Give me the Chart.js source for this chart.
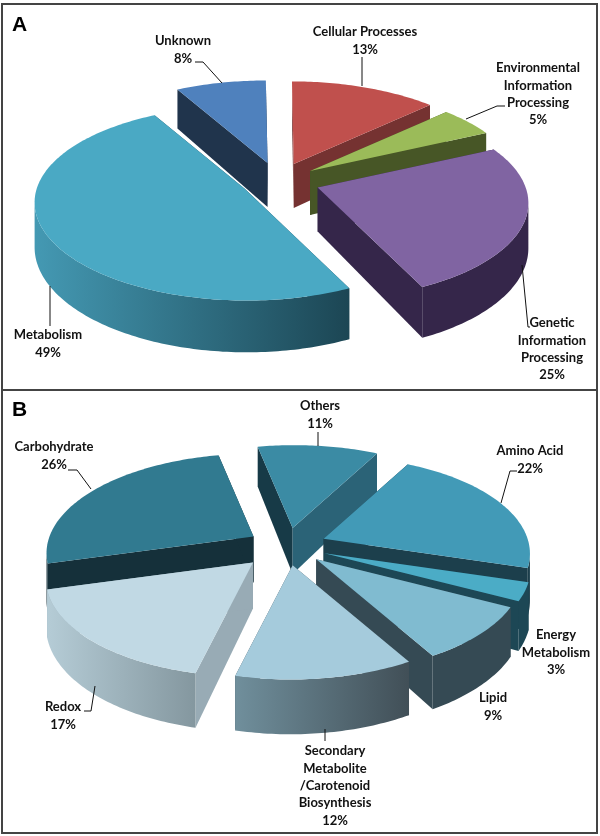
<!DOCTYPE html>
<html>
<head>
<meta charset="utf-8">
<title>Pie charts A and B</title>
<script src="https://cdn.jsdelivr.net/npm/chart.js@4"></script>
<style>
    body { margin: 0; background: #fff; }
    canvas { position: absolute; left: 0; }
    .rule { position: absolute; background: #444; }
</style>
</head>
<body>
<canvas id="chartA" width="600" height="390" style="top:0"></canvas>
<canvas id="chartB" width="600" height="446" style="top:390px"></canvas>
<div class="rule" style="left:1px;top:3px;width:597px;height:2px"></div>
<div class="rule" style="left:1px;top:389px;width:597px;height:2px"></div>
<div class="rule" style="left:1px;top:832px;width:597px;height:2px"></div>
<div class="rule" style="left:1px;top:3px;width:2px;height:831px"></div>
<div class="rule" style="left:596px;top:3px;width:2px;height:831px"></div>
<script>
// Panel A data
const categoriesA = ['Unknown', 'Cellular Processes', 'Environmental\nInformation\nProcessing', 'Genetic\nInformation\nProcessing', 'Metabolism'];
const valuesA = [8, 13, 5, 25, 49];

// Panel B data
const categoriesB = ['Others', 'Amino Acid', 'Energy\nMetabolism', 'Lipid', 'Secondary\nMetabolite\n/Carotenoid\nBiosynthesis', 'Redox', 'Carbohydrate'];
const valuesB = [11, 22, 3, 9, 12, 17, 26];

// Slice styles: top colour, radial wall colour, outer wall left and right colour
const stylesA = [
    { top: '#4f81bd', side: '#20344c', left: '#20344c', right: '#20344c' },
    { top: '#c0504d', side: '#753231', left: '#753231', right: '#753231' },
    { top: '#9bbb59', side: '#475626', left: '#475626', right: '#475626' },
    { top: '#8064a2', side: '#35264a', left: '#35264a', right: '#35264a' },
    { top: '#4aa9c4', side: '#1e4856', left: '#4499b3', right: '#1c4654' }
];
const stylesB = [
    { top: '#3b8ba4', side: '#173a47', sideEnd: '#2b6377', left: '#2b6377', right: '#2b6377' },
    { top: '#429ab7', side: '#1c3f4c', left: '#1c3f4c', right: '#1c3f4c' },
    { top: '#4bacc6', side: '#1d4755', left: '#1d4755', right: '#1d4755' },
    { top: '#80bbd0', side: '#354a54', left: '#354a54', right: '#354a54' },
    { top: '#a5cbdc', side: '#404f58', left: '#708f9c', right: '#414f57' },
    { top: '#c1d9e4', side: '#98abb5', left: '#b5ccd6', right: '#84979f' },
    { top: '#317a90', side: '#15303a', left: '#15303a', right: '#15303a' }
];

// Explosion of each slice, used as the arc offset
const explodeA = [65, 65, 62, 65, 58];
const explodeB = [71, 71, 71, 71, 71, 84, 71];

// Label anchors (centre x, middle y of first line) and leader lines, canvas coords
const labelsA = [
    { x: 183, y: 41, line: [[195, 62], [203, 62], [222, 83]] },
    { x: 365, y: 32, line: [[362, 57], [362, 86]] },
    { x: 538, y: 68, line: [[505, 106], [497, 106], [466, 119]] },
    { x: 552, y: 323, line: [[522, 265], [528, 327], [530, 327]] },
    { x: 48, y: 335, line: [[50, 286], [50, 326]] }
];
const labelsB = [
    { x: 320, y: 16, line: [[318, 42], [318, 56]] },
    { x: 530, y: 61, line: [[517, 81], [510, 81], [501, 113]] },
    { x: 556, y: 245 },
    { x: 493, y: 308 },
    { x: 335, y: 361, line: [[325, 339], [325, 351]] },
    { x: 63, y: 317, line: [[84, 321], [91, 321], [95, 296]] },
    { x: 54, y: 57, line: [[68, 80], [77, 80], [91, 99]] }
];

// Flat pie plane to screen, with some perspective
function project(view, u, v) {
    const w = 1 + view.persp * v;
    return { x: (view.a * u + view.shear * v) / w, y: -view.b * v / w };
}

function fillPoly(ctx, pts, color) {
    ctx.beginPath();
    pts.forEach((p, i) => i ? ctx.lineTo(p.x, p.y) : ctx.moveTo(p.x, p.y));
    ctx.closePath();
    ctx.fillStyle = color;
    ctx.fill();
}

function drawSlice(ctx, view, arc, style) {
    const R = arc.outerRadius;
    const a0 = arc.startAngle + Math.PI / 2;
    const a1 = arc.endAngle + Math.PI / 2;
    const mid = (a0 + a1) / 2;
    const d = (arc.options.offset / 2) / R;
    const shift = project(view, d * Math.sin(mid), d * Math.cos(mid));
    const apex = { x: view.cx + shift.x, y: view.cy + shift.y };

    // Rim of the slice on screen
    const steps = Math.max(4, Math.ceil((a1 - a0) * 180 / Math.PI));
    const rim = [];
    for (let i = 0; i <= steps; i++) {
        const t = a0 + (a1 - a0) * i / steps;
        const v = Math.cos(t);
        const p = project(view, Math.sin(t), v);
        rim.push({ x: apex.x + p.x, y: apex.y + p.y, depth: view.depth / (1 + view.persp * v) });
    }
    const down = (p, dz) => ({ x: p.x, y: p.y + dz });
    const apexDepth = view.depth;

    // Radial walls
    const first = rim[0];
    const last = rim[rim.length - 1];
    fillPoly(ctx, [apex, first, down(first, first.depth), down(apex, apexDepth)], style.side);
    fillPoly(ctx, [apex, last, down(last, last.depth), down(apex, apexDepth)], style.sideEnd || style.side);

    // Outer wall, only the part facing the viewer
    const front = rim.filter((p, i) => (i < steps && rim[i + 1].x < p.x) || (i > 0 && p.x < rim[i - 1].x));
    if (front.length > 1) {
        const xs = front.map(p => p.x);
        const grad = ctx.createLinearGradient(Math.min(...xs), 0, Math.max(...xs), 0);
        grad.addColorStop(0, style.left);
        grad.addColorStop(1, style.right);
        const under = front.map(p => down(p, p.depth)).reverse();
        fillPoly(ctx, [...front, ...under], grad);
    }

    // Top face
    fillPoly(ctx, [apex, ...rim], style.top);
}

// Draws the arcs of the dataset as a tilted 3D pie, with labels
const pie3d = {
    id: 'pie3d',
    beforeDatasetsDraw(chart, args, opts) {
        const ctx = chart.ctx;
        const arcs = chart.getDatasetMeta(0).data;
        const order = arcs.map((arc, i) => {
            const mid = (arc.startAngle + arc.endAngle) / 2 + Math.PI / 2;
            return { arc, i, v: Math.cos(mid) };
        }).sort((p, q) => q.v - p.v);
        order.forEach(o => drawSlice(ctx, opts.view, o.arc, opts.styles[o.i]));

        // Labels and leader lines
        ctx.textAlign = 'center';
        ctx.textBaseline = 'middle';
        ctx.font = 'bold 13px Lato';
        chart.data.labels.forEach((label, i) => {
            const pos = opts.labels[i];
            const lines = label.split('\n').concat(chart.data.datasets[0].data[i] + '%');
            ctx.fillStyle = '#111';
            lines.forEach((txt, k) => ctx.fillText(txt, pos.x, pos.y + k * 17.4));
            if (pos.line) {
                ctx.beginPath();
                pos.line.forEach((p, k) => k ? ctx.lineTo(p[0], p[1]) : ctx.moveTo(p[0], p[1]));
                ctx.strokeStyle = '#111';
                ctx.lineWidth = 1;
                ctx.stroke();
            }
        });

        // Panel letter
        ctx.font = 'bold 21px "Liberation Sans"';
        ctx.fillStyle = '#000';
        ctx.textAlign = 'left';
        ctx.textBaseline = 'alphabetic';
        ctx.fillText(opts.letter, 12, opts.letterY);
        return false;
    }
};

function makePie(id, categories, values, explode, rotation, pluginOpts) {
    return new Chart(document.getElementById(id), {
        type: 'pie',
        data: {
            labels: categories,
            datasets: [{
                data: values,
                offset: explode,
                backgroundColor: pluginOpts.styles.map(s => s.top),
                borderWidth: 0
            }]
        },
        options: {
            responsive: false,
            animation: false,
            rotation: rotation,
            plugins: {
                legend: { display: false },
                tooltip: { enabled: false },
                pie3d: pluginOpts
            }
        },
        plugins: [pie3d]
    });
}

makePie('chartA', categoriesA, valuesA, explodeA, -28.8, {
    view: { cx: 278, cy: 181, a: 208, b: 95, shear: -2, persp: 0.15, depth: 44 },
    styles: stylesA, labels: labelsA, letter: 'A', letterY: 31
});
makePie('chartB', categoriesB, valuesB, explodeB, -12, {
    view: { cx: 287, cy: 156, a: 204, b: 96, shear: 2, persp: 0.16, depth: 46 },
    styles: stylesB, labels: labelsB, letter: 'B', letterY: 26
});
</script>
</body>
</html>
